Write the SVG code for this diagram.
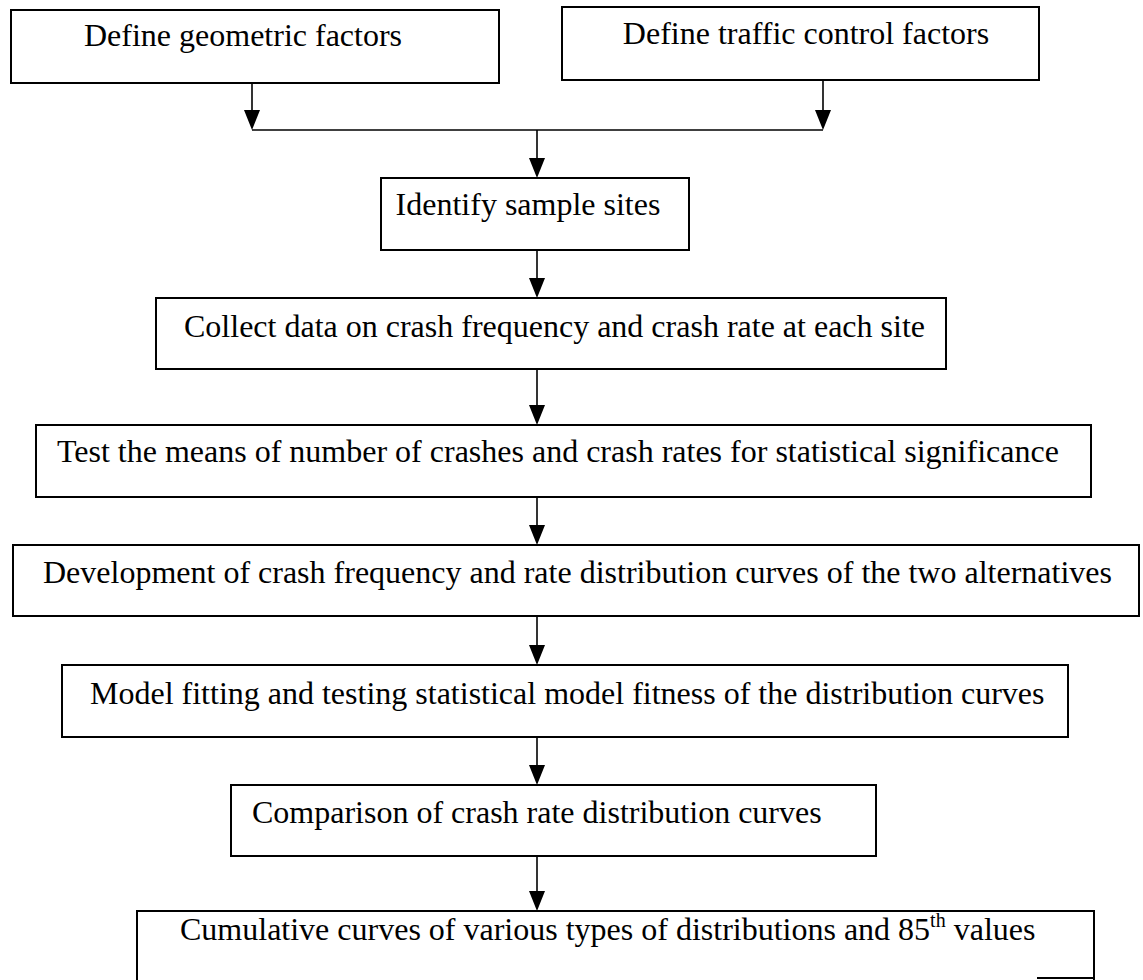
<svg xmlns="http://www.w3.org/2000/svg" width="1143" height="980" viewBox="0 0 1143 980">
<style>
.box{fill:none;stroke:#000;stroke-width:2}
.t{font-family:"Liberation Serif","Times New Roman",serif;font-size:32px;fill:#000}
.c{text-anchor:middle}
.ln{fill:none;stroke:#000;stroke-width:1.6}
.sup{font-size:20px}
</style>
<defs>
<path id="ah" d="M-8,-20 L8,-20 L0,0 Z" fill="#000"/>
</defs>
<rect width="1143" height="980" fill="#fff"/>
<g id="connectors">
<path class="ln" d="M252,83 V112"/><use href="#ah" x="252" y="130"/>
<path class="ln" d="M823,80 V112"/><use href="#ah" x="823" y="130"/>
<path class="ln" d="M252,130 H823"/>
<path class="ln" d="M537,130 V160"/><use href="#ah" x="537" y="178"/>
<path class="ln" d="M537,250 V280"/><use href="#ah" x="537" y="298"/>
<path class="ln" d="M537,369 V407"/><use href="#ah" x="537" y="425"/>
<path class="ln" d="M537,497 V527"/><use href="#ah" x="537" y="545"/>
<path class="ln" d="M537,616 V647"/><use href="#ah" x="537" y="665"/>
<path class="ln" d="M537,737 V767"/><use href="#ah" x="537" y="785"/>
<path class="ln" d="M537,856 V893"/><use href="#ah" x="537" y="911"/>
</g>
<g id="n1"><rect class="box" x="11" y="10" width="488" height="73"/><text class="t c" x="243" y="46">Define geometric factors</text></g>
<g id="n2"><rect class="box" x="562" y="7" width="477" height="73"/><text class="t c" x="806" y="44">Define traffic control factors</text></g>
<g id="n3"><rect class="box" x="381" y="178" width="308" height="72"/><text class="t c" x="528" y="215">Identify sample sites</text></g>
<g id="n4"><rect class="box" x="156" y="298" width="790" height="71"/><text class="t" x="184" y="337">Collect data on crash frequency and crash rate at each site</text></g>
<g id="n5"><rect class="box" x="36" y="425" width="1055" height="72"/><text class="t" x="57" y="462">Test the means of number of crashes and crash rates for statistical significance</text></g>
<g id="n6"><rect class="box" x="13" y="545" width="1126" height="71"/><text class="t" x="43" y="583">Development of crash frequency and rate distribution curves of the two alternatives</text></g>
<g id="n7"><rect class="box" x="62" y="665" width="1006" height="72"/><text class="t" x="90" y="704">Model fitting and testing statistical model fitness of the distribution curves</text></g>
<g id="n8"><rect class="box" x="231" y="785" width="645" height="71"/><text class="t" x="252" y="823">Comparison of crash rate distribution curves</text></g>
<g id="n9"><path class="box" d="M137,982 V911 H1094 V982"/><path class="box" d="M1037,978 H1094"/><text class="t" x="180" y="940">Cumulative curves of various types of distributions and 85<tspan class="sup" dy="-13">th</tspan><tspan dy="13"> values</tspan></text></g>
</svg>
